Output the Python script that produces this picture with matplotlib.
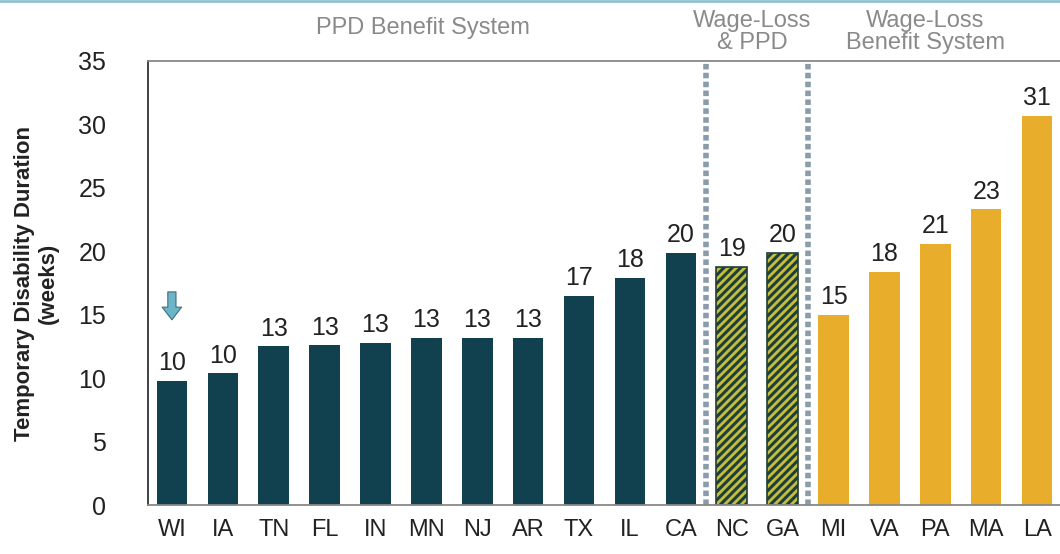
import matplotlib.pyplot as plt
import numpy as np

states = ["WI", "IA", "TN", "FL", "IN", "MN", "NJ", "AR", "TX", "IL", "CA",
          "NC", "GA", "MI", "VA", "PA", "MA", "LA"]
weeks = [9.8, 10.4, 12.5, 12.6, 12.8, 13.2, 13.2, 13.2, 16.5, 17.9, 19.9,
         18.8, 19.9, 15.0, 18.4, 20.6, 23.3, 30.7]
labels = ["10", "10", "13", "13", "13", "13", "13", "13", "17", "18", "20",
          "19", "20", "15", "18", "21", "23", "31"]
groups = ["ppd"] * 11 + ["both"] * 2 + ["wage"] * 5
group_titles = ["PPD Benefit System", "Wage-Loss\n& PPD", "Wage-Loss\nBenefit System"]
yticks = [0, 5, 10, 15, 20, 25, 30, 35]


def main():
    plt.rcParams["font.family"] = ["Liberation Sans", "DejaVu Sans"]
    plt.rcParams["hatch.linewidth"] = 2.2

    fig = plt.figure(figsize=(10.6, 5.54), dpi=100)
    ax = fig.add_axes([0.1396, 0.0884, 0.8604, 0.8015])

    x = np.arange(len(states))
    for i in range(len(states)):
        if groups[i] == "ppd":
            ax.bar(x[i], weeks[i], width=0.6, color="#11414f", zorder=2)
        elif groups[i] == "both":
            ax.bar(x[i], weeks[i], width=0.6, facecolor="#c5bd3c",
                   edgecolor="#1f3f3a", hatch="////", linewidth=1.2, zorder=2)
        else:
            ax.bar(x[i], weeks[i], width=0.6, color="#e8ad2a", zorder=2)
        ax.annotate(labels[i], (x[i], weeks[i]), xytext=(0, 4),
                    textcoords="offset points", ha="center", va="bottom",
                    fontsize=18, color="#222222")

    # separators between benefit systems
    for s in [10.5, 12.5]:
        ax.axvline(s, color="#8a9caa", linestyle=(0, (1, 0.6)), linewidth=4, zorder=1)

    # arrow over WI
    ax.annotate("", xy=(0, 14.6), xytext=(0, 16.8),
                arrowprops=dict(arrowstyle="simple,head_width=1.0,head_length=0.65,tail_width=0.42",
                                fc="#6cb4c8", ec="#3d6f7e", lw=0.8, mutation_scale=14,
                                shrinkA=0, shrinkB=0))

    ax.set_xlim(-0.47, 17.45)
    ax.set_ylim(0, 35)
    ax.set_yticks(yticks)
    ax.set_xticks(x)
    ax.set_xticklabels(states)
    ax.tick_params(axis="both", length=0, colors="#222222")
    ax.tick_params(axis="y", pad=30, labelsize=18)
    ax.tick_params(axis="x", pad=10, labelsize=17)

    ax.spines["right"].set_visible(False)
    ax.spines["left"].set_color("#333333")
    ax.spines["top"].set_color("#888888")
    ax.spines["bottom"].set_color("#888888")
    for sp in ax.spines.values():
        sp.set_linewidth(1.3)

    ax.set_ylabel("Temporary Disability Duration\n(weeks)", fontsize=16,
                  fontweight="bold", color="#222222", labelpad=14)

    fig.text(423 / 1060, 1 - 28 / 554, group_titles[0], ha="center", va="center",
             fontsize=17, color="#8a8a8a")
    fig.text(752 / 1060, 1 - 32 / 554, group_titles[1], ha="center", va="center",
             fontsize=17, color="#8a8a8a", linespacing=1.0)
    fig.text(925 / 1060, 1 - 32 / 554, group_titles[2], ha="center", va="center",
             fontsize=17, color="#8a8a8a", linespacing=1.0)

    # thin line along the top edge
    fig.add_artist(plt.Line2D([0, 1], [0.998, 0.998], color="#8fc3cf", linewidth=2))

    fig.savefig("out.png", dpi=100)


if __name__ == "__main__":
    main()
